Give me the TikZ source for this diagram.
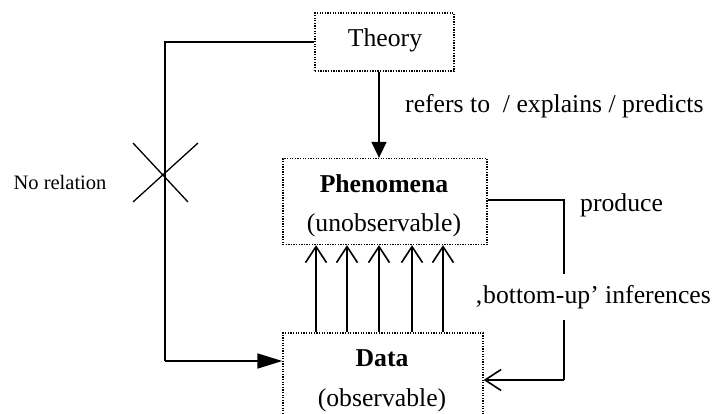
\documentclass[tikz,border=0pt]{standalone}
\usepackage{fontspec}
\setmainfont{Liberation Serif}
\usetikzlibrary{arrows.meta}
\begin{document}
\begin{tikzpicture}[x=1pt,y=-1pt,
  box/.style={draw,line width=1.3pt,dash pattern=on 1.3pt off 1.3pt,inner sep=0pt,minimum width=#1},
  txt/.style={font=\fontsize{25.7}{30}\selectfont,inner sep=0pt},
  btxt/.style={font=\fontsize{25.7}{30}\selectfont\bfseries,inner sep=0pt},
  conn/.style={line width=1.6pt},
  filledtip/.style={-{Triangle[length=#1,width=15pt]}},
  opentip/.style={-{Straight Barb[length=16pt,width=21pt,line width=1.6pt]}}]
\useasboundingbox (0,0) rectangle (714,414);
% boxes
\node[box=139pt,minimum height=58pt] (theory) at (384.5,42) {};
\node[box=204pt,minimum height=86pt] (phen) at (385,201.5) {};
\node[box=200pt,minimum height=100pt] (data) at (383,383) {};
% texts
\node[txt] (ttheory) at (385,40) {Theory};
\node[btxt] (tphen) at (384,184) {Phenomena};
\node[txt] (tunobs) at (384,225) {(unobservable)};
\node[btxt] (tdata) at (382,358) {Data};
\node[txt] (tobs) at (382,400) {(observable)};
\node[txt,anchor=west] (refers) at (405,106) {refers to \ / explains / predicts};
\node[txt,anchor=west] (produce) at (580,205) {produce};
\node[txt,font=\fontsize{20.5}{24}\selectfont] (norel) at (60,182) {No relation};
% theory -> phenomena
\draw[conn,filledtip=16pt] (theory.south -| 379,0) -- (phen.north -| 379,0);
% left connector
\coordinate (tl) at (165,42);
\coordinate (bl) at (165,361);
\draw[conn] (theory.west) -- (tl) -- (bl);
\draw[conn,filledtip=25pt] (bl) -- (bl -| data.west);
% cross
\coordinate (c1a) at (133,143); \coordinate (c1b) at (188,202);
\coordinate (c2a) at (133,202); \coordinate (c2b) at (198,143);
\draw[line width=1.3pt] (c1a) -- (c1b);
\draw[line width=1.3pt] (c2a) -- (c2b);
% bottom-up arrows
\foreach \x in {316,347,379,412,443}{
  \draw[conn,opentip] (data.north -| \x,0) -- (phen.south -| \x,0);
}
% right connector
\coordinate (r1) at (564,200);
\coordinate (r2) at (564,380);
\draw[conn] (phen.east |- r1) -- (r1) -- (r2);
\draw[conn,opentip] (r2) -- (r2 -| data.east);
\node[txt,fill=white,inner ysep=11pt,inner xsep=0pt,anchor=east] (bu) at (711,297) {‚bottom-up’ inferences};
\end{tikzpicture}
\end{document}
